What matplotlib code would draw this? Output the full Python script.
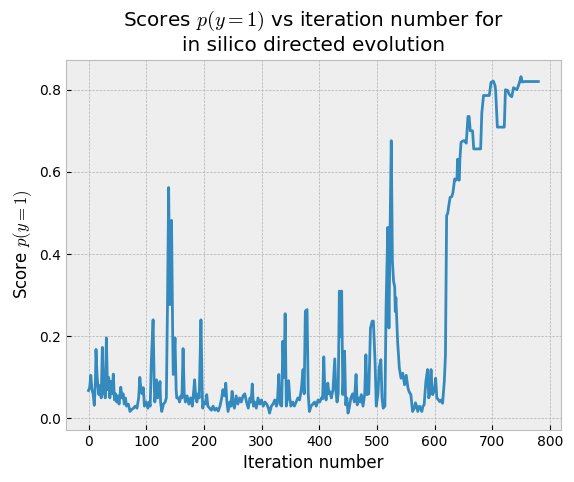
import numpy as np
import matplotlib
matplotlib.use('Agg')
import matplotlib.pyplot as plt

# iteration number and score p(y=1)
iteration = np.array([
    0, 2, 4, 6, 8, 10, 12, 13, 15, 17, 18, 20, 22, 24, 26, 28, 29, 31, 33, 35,
    37, 39, 41, 43, 45, 47, 49, 51, 53, 56, 58, 60, 62, 64, 66, 69, 72, 75, 78, 81,
    84, 87, 89, 91, 93, 95, 97, 100, 103, 105, 107, 109, 112, 114, 115, 118, 120, 122, 124, 125,
    127, 130, 133, 135, 137, 139, 141, 143, 144, 146, 147, 150, 152, 153, 156, 158, 160, 162, 164, 166,
    168, 171, 174, 177, 180, 182, 184, 186, 188, 190, 192, 195, 197, 198, 200, 203, 205, 207, 210, 213,
    216, 219, 222, 225, 228, 231, 233, 236, 238, 240, 242, 245, 247, 249, 251, 253, 256, 259, 262, 265,
    268, 271, 274, 277, 280, 282, 284, 286, 288, 291, 294, 297, 300, 303, 306, 309, 312, 314, 317, 320,
    323, 326, 328, 330, 332, 335, 337, 339, 341, 343, 345, 347, 349, 351, 354, 357, 360, 363, 366, 369,
    372, 374, 376, 379, 381, 383, 386, 389, 392, 395, 398, 401, 404, 406, 408, 410, 412, 415, 417, 419,
    421, 424, 427, 429, 431, 433, 435, 437, 439, 441, 444, 446, 448, 450, 452, 455, 458, 461, 464, 466,
    469, 471, 473, 476, 479, 481, 483, 486, 489, 492, 494, 497, 499, 502, 504, 507, 509, 511, 514, 516,
    519, 521, 523, 525, 527, 529, 531, 532, 533, 536, 539, 542, 545, 548, 551, 554, 556, 559, 562, 565,
    567, 569, 571, 574, 576, 578, 580, 582, 585, 588, 590, 592, 594, 596, 597, 600, 602, 604, 607, 609,
    612, 614, 617, 619, 621, 623, 625, 627, 630, 632, 635, 637, 639, 640, 642, 643, 644, 646, 650, 652,
    655, 656, 658, 660, 662, 666, 668, 680, 682, 685, 695, 698, 702, 705, 706, 709, 721, 723, 727, 729,
    732, 734, 737, 743, 747, 750, 752, 758, 780,
])
score = np.array([
    0.068, 0.075, 0.105, 0.07, 0.06, 0.032, 0.09, 0.168, 0.1, 0.07, 0.058, 0.08, 0.05, 0.173, 0.06, 0.08, 0.05, 0.196, 0.07, 0.10,
    0.05, 0.09, 0.06, 0.108, 0.045, 0.06, 0.04, 0.055, 0.035, 0.076, 0.05, 0.06, 0.035, 0.05, 0.03, 0.035, 0.017, 0.022, 0.025, 0.03,
    0.025, 0.05, 0.10, 0.07, 0.06, 0.075, 0.03, 0.04, 0.025, 0.04, 0.03, 0.14, 0.24, 0.08, 0.04, 0.094, 0.05, 0.06, 0.09, 0.04,
    0.017, 0.035, 0.04, 0.05, 0.28, 0.562, 0.277, 0.40, 0.482, 0.20, 0.107, 0.196, 0.07, 0.05, 0.05, 0.04, 0.055, 0.05, 0.17, 0.06,
    0.04, 0.055, 0.035, 0.05, 0.03, 0.06, 0.094, 0.05, 0.04, 0.06, 0.05, 0.24, 0.08, 0.025, 0.04, 0.035, 0.058, 0.03, 0.025, 0.02,
    0.03, 0.02, 0.025, 0.018, 0.03, 0.05, 0.07, 0.055, 0.086, 0.04, 0.017, 0.04, 0.03, 0.066, 0.035, 0.025, 0.055, 0.035, 0.05, 0.04,
    0.055, 0.06, 0.04, 0.025, 0.05, 0.04, 0.084, 0.03, 0.04, 0.025, 0.05, 0.035, 0.045, 0.03, 0.04, 0.035, 0.025, 0.013, 0.03, 0.035,
    0.045, 0.03, 0.05, 0.107, 0.035, 0.03, 0.188, 0.1, 0.255, 0.03, 0.05, 0.092, 0.05, 0.03, 0.04, 0.03, 0.04, 0.05, 0.045, 0.07,
    0.119, 0.06, 0.261, 0.265, 0.06, 0.017, 0.03, 0.035, 0.04, 0.03, 0.045, 0.04, 0.05, 0.048, 0.15, 0.06, 0.045, 0.086, 0.06, 0.065,
    0.05, 0.07, 0.145, 0.066, 0.04, 0.06, 0.31, 0.2, 0.31, 0.058, 0.164, 0.033, 0.05, 0.013, 0.025, 0.05, 0.06, 0.04, 0.107, 0.033,
    0.05, 0.04, 0.058, 0.03, 0.06, 0.155, 0.058, 0.06, 0.22, 0.237, 0.237, 0.135, 0.03, 0.06, 0.123, 0.143, 0.05, 0.025, 0.03, 0.27,
    0.465, 0.22, 0.465, 0.676, 0.383, 0.334, 0.32, 0.26, 0.294, 0.188, 0.123, 0.098, 0.11, 0.082, 0.105, 0.074, 0.065, 0.058, 0.017, 0.025,
    0.038, 0.03, 0.017, 0.03, 0.025, 0.017, 0.03, 0.033, 0.09, 0.119, 0.05, 0.06, 0.119, 0.06, 0.058, 0.07, 0.098, 0.05, 0.045, 0.041,
    0.045, 0.037, 0.09, 0.155, 0.493, 0.50, 0.52, 0.538, 0.54, 0.55, 0.583, 0.58, 0.585, 0.631, 0.58, 0.58, 0.63, 0.672, 0.676, 0.676,
    0.67, 0.69, 0.735, 0.735, 0.70, 0.70, 0.656, 0.656, 0.743, 0.786, 0.786, 0.818, 0.821, 0.81, 0.798, 0.709, 0.709, 0.80, 0.798, 0.79,
    0.785, 0.783, 0.805, 0.80, 0.816, 0.832, 0.819, 0.82, 0.82,
])

plt.style.use('bmh')
fig = plt.figure(figsize=(5.74, 4.82), dpi=100)
plt.plot(iteration, score)
plt.title('Scores $p(y=1)$ vs iteration number for\nin silico directed evolution')
plt.xlabel('Iteration number')
plt.ylabel('Score $p(y=1)$')
plt.subplots_adjust(left=0.115, right=0.977, top=0.876, bottom=0.108)
plt.savefig('out.png', dpi=100)
